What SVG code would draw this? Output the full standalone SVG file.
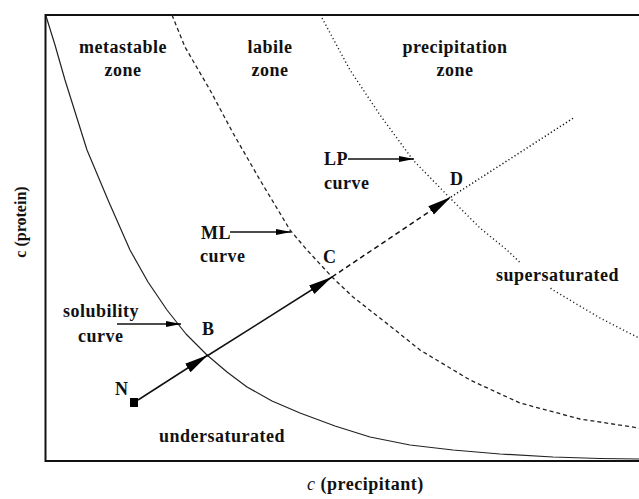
<svg xmlns="http://www.w3.org/2000/svg" width="639" height="499" viewBox="0 0 639 499">
<style>
.lbl{font-family:"Liberation Serif","Times New Roman",serif;font-weight:bold;font-size:18px;letter-spacing:0.5px;fill:#111}
.mid{text-anchor:middle}
.curve{fill:none;stroke:#222;stroke-linejoin:round}
.path{fill:none;stroke:#111;stroke-width:1.5}
</style>
<defs>
<marker id="big" markerUnits="userSpaceOnUse" markerWidth="26" markerHeight="12" refX="24" refY="6" orient="auto">
<path d="M0,1 L24,6 L0,11 Z" fill="#000"/>
</marker>
<marker id="small" markerUnits="userSpaceOnUse" markerWidth="16" markerHeight="8" refX="15" refY="4" orient="auto">
<path d="M0,1 L15,4 L0,7 Z" fill="#000"/>
</marker>
</defs>
<rect width="639" height="499" fill="#fff"/>
<g id="axes">
<path d="M46,15 L639,15 M45.5,14 L45.5,462 M44.5,461 L639,461" stroke="#111" stroke-width="2" fill="none"/>
</g>
<g id="curves">
<path id="solubility-curve" class="curve" stroke-width="1.2" d="M46,16 L55,45 L65,80 L76,115 L87,150 L108,200 L130,250 L148,282 L167,310 L186,334 L207,355 L227,372 L247,387 L272,401 L300,413 L335,426 L370,437 L410,445 L453,450 L500,454 L553,457 L600,458.5 L639,459"/>
<path id="ml-curve" class="curve" stroke-width="1.3" stroke-dasharray="4,3" d="M172,15 L185,47 L210,90 L233,133 L260,180 L290,230 L307,250 L332,277 L353,297 L385,322 L420,350 L470,380 L520,403 L580,419 L639,428"/>
<path id="lp-curve" class="curve" stroke-width="1.4" stroke-dasharray="1.2,2.6" d="M322,18 L350,70 L380,115 L413,160 L450,198 L480,228 L507,250 L530,272 L553,290 L600,318 L639,338"/>
</g>
<g id="connectors">
<line class="path" x1="138" y1="400" x2="208" y2="355" marker-end="url(#big)"/>
<line class="path" x1="207" y1="356" x2="332" y2="277" marker-end="url(#big)"/>
<line class="path" x1="332" y1="277" x2="451" y2="197" stroke-dasharray="5,3.5" marker-end="url(#big)"/>
<line class="path" x1="451" y1="197" x2="575" y2="117" stroke-width="1.3" stroke-dasharray="1.2,2.4"/>
<line class="path" x1="117" y1="324" x2="181" y2="324" stroke-width="1.3" marker-end="url(#small)"/>
<line class="path" x1="230" y1="232" x2="291" y2="232" stroke-width="1.3" marker-end="url(#small)"/>
<line class="path" x1="348" y1="159" x2="414" y2="159" stroke-width="1.3" marker-end="url(#small)"/>
</g>
<g id="node-N">
<rect x="130" y="398" width="8" height="9" fill="#000"/>
<text class="lbl" x="115" y="395">N</text>
</g>
<g id="node-B"><text class="lbl" x="202" y="335">B</text></g>
<g id="node-C"><text class="lbl" x="323" y="263">C</text></g>
<g id="node-D"><text class="lbl" x="450" y="185">D</text></g>
<g id="zone-metastable">
<text class="lbl mid" x="123" y="53">metastable</text>
<text class="lbl mid" x="123" y="76">zone</text>
</g>
<g id="zone-labile">
<text class="lbl mid" x="270" y="53">labile</text>
<text class="lbl mid" x="270" y="76">zone</text>
</g>
<g id="zone-precipitation">
<text class="lbl mid" x="455" y="53">precipitation</text>
<text class="lbl mid" x="455" y="76">zone</text>
</g>
<g id="label-lp">
<text class="lbl" x="324" y="165">LP</text>
<text class="lbl" x="324" y="189">curve</text>
</g>
<g id="label-ml">
<text class="lbl" x="201" y="239">ML</text>
<text class="lbl" x="200" y="262">curve</text>
</g>
<g id="label-solubility">
<text class="lbl" x="63" y="317">solubility</text>
<text class="lbl" x="78" y="342">curve</text>
</g>
<g id="region-supersaturated">
<rect x="494" y="263" width="130" height="24" fill="#fff"/>
<text class="lbl" x="496" y="281">supersaturated</text>
</g>
<g id="region-undersaturated">
<text class="lbl" x="159" y="442">undersaturated</text>
</g>
<g id="axis-labels">
<text class="lbl" style="font-size:16px;letter-spacing:0" transform="translate(26,222) rotate(-90)" text-anchor="middle">c (protein)</text>
<text class="lbl" x="307" y="490"><tspan style="font-style:italic;font-weight:normal">c</tspan>  (precipitant)</text>
</g>
</svg>
